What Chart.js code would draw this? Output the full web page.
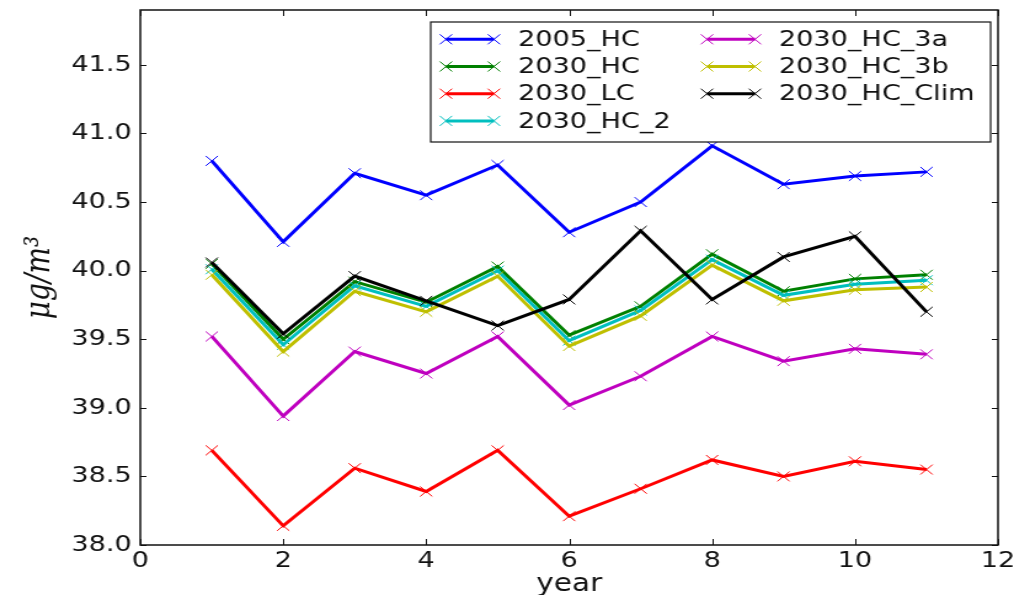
<!DOCTYPE html>
<html>
<head>
<meta charset="utf-8">
<script src="https://cdn.jsdelivr.net/npm/chart.js@4.4.1/dist/chart.umd.min.js"></script>
<style>
  html, body { margin: 0; padding: 0; background: #fff; overflow: hidden; }
  #chart { display: block; width: 1014px !important; height: 595px !important; }
</style>
</head>
<body>
<!-- the original figure is stretched sideways, so the canvas is drawn narrower and widened by css -->
<canvas id="chart" width="824" height="595" style="width:1014px;height:595px"></canvas>
<script>
const years = [1, 2, 3, 4, 5, 6, 7, 8, 9, 10, 11];

const hc2005   = [40.80, 40.21, 40.71, 40.55, 40.77, 40.28, 40.50, 40.91, 40.63, 40.69, 40.72];
const hc2030   = [40.05, 39.50, 39.92, 39.77, 40.03, 39.53, 39.74, 40.12, 39.85, 39.94, 39.97];
const lc2030   = [38.69, 38.14, 38.56, 38.39, 38.69, 38.21, 38.41, 38.62, 38.50, 38.61, 38.55];
const hc2030_2 = [40.01, 39.46, 39.89, 39.74, 40.00, 39.49, 39.71, 40.08, 39.82, 39.90, 39.93];
const hc2030_3a = [39.52, 38.94, 39.41, 39.25, 39.52, 39.02, 39.23, 39.52, 39.34, 39.43, 39.39];
const hc2030_3b = [39.97, 39.41, 39.85, 39.70, 39.96, 39.45, 39.67, 40.04, 39.78, 39.86, 39.88];
const hcClim   = [40.06, 39.54, 39.96, 39.78, 39.60, 39.79, 40.29, 39.79, 40.10, 40.25, 39.70];

const seriesNames = ['2005_HC', '2030_HC', '2030_LC', '2030_HC_2', '2030_HC_3a', '2030_HC_3b', '2030_HC_Clim'];
const seriesValues = [hc2005, hc2030, lc2030, hc2030_2, hc2030_3a, hc2030_3b, hcClim];
const colors = ['#0000ff', '#008000', '#ff0000', '#00bfbf', '#bf00bf', '#bfbf00', '#000000'];

const xTicks = { min: 0, max: 12, step: 2 };
const yTicks = { min: 38, max: 41.9, step: 0.5 };

const datasets = seriesNames.map((name, i) => ({
  label: name,
  data: years.map((yr, j) => ({ x: yr, y: seriesValues[i][j] })),
  borderColor: colors[i],
  backgroundColor: colors[i],
  borderWidth: 3,
  pointStyle: 'crossRot',
  pointRadius: 7,
  pointBorderWidth: 1,
  pointBorderColor: colors[i],
  order: seriesNames.length - i   // later series on top, like matplotlib
}));

function crossMark(ctx, x, y, r) {
  ctx.beginPath();
  ctx.moveTo(x - r, y - r); ctx.lineTo(x + r, y + r);
  ctx.moveTo(x - r, y + r); ctx.lineTo(x + r, y - r);
  ctx.stroke();
}

// box round the plot plus the inward ticks on all four sides
const framePlugin = {
  id: 'frame',
  afterDatasetsDraw(chart) {
    const { ctx, chartArea: a, scales } = chart;
    ctx.save();
    ctx.strokeStyle = '#111';
    ctx.lineWidth = 1;
    scales.x.ticks.forEach(t => {
      const px = Math.round(scales.x.getPixelForValue(t.value)) + 0.5;
      ctx.beginPath();
      ctx.moveTo(px, a.bottom); ctx.lineTo(px, a.bottom - 6);
      ctx.moveTo(px, a.top); ctx.lineTo(px, a.top + 6);
      ctx.stroke();
    });
    scales.y.ticks.forEach(t => {
      const py = Math.round(scales.y.getPixelForValue(t.value)) + 0.5;
      ctx.beginPath();
      ctx.moveTo(a.left, py); ctx.lineTo(a.left + 5, py);
      ctx.moveTo(a.right, py); ctx.lineTo(a.right - 5, py);
      ctx.stroke();
    });
    ctx.lineWidth = 1.5;
    ctx.strokeRect(a.left, a.top, a.right - a.left, a.bottom - a.top);
    ctx.restore();
  }
};

// matplotlib style legend, two columns, inside the top right corner
const legendPlugin = {
  id: 'boxLegend',
  afterDraw(chart) {
    const { ctx, chartArea: a } = chart;
    const w = 455, h = 120;
    const left = a.right - 6 - w, top = a.top + 12;
    ctx.save();
    ctx.fillStyle = '#fff';
    ctx.fillRect(left, top, w, h);
    ctx.strokeStyle = '#111';
    ctx.lineWidth = 1.2;
    ctx.strokeRect(left, top, w, h);
    ctx.font = '22px "DejaVu Sans"';
    ctx.textBaseline = 'middle';
    ctx.textAlign = 'left';
    chart.data.datasets.forEach((ds, i) => {
      const col = i < 4 ? 0 : 1;
      const row = i < 4 ? i : i - 4;
      const x0 = left + (col ? 224.5 : 12.4);
      const x1 = x0 + 39;
      const y = top + 17.3 + row * 27.2;
      ctx.strokeStyle = ds.borderColor;
      ctx.lineWidth = 3;
      ctx.beginPath(); ctx.moveTo(x0, y); ctx.lineTo(x1, y); ctx.stroke();
      ctx.lineWidth = 1;
      crossMark(ctx, x0, y, 5);
      crossMark(ctx, x1, y, 5);
      ctx.fillStyle = '#111';
      ctx.fillText(ds.label, x0 + 58.6, y + 1);
    });
    ctx.restore();
  }
};

new Chart(document.getElementById('chart'), {
  type: 'line',
  data: { datasets: datasets },
  options: {
    responsive: false,
    animation: false,
    devicePixelRatio: 1,
    layout: { padding: { top: 10, right: 13, left: 0, bottom: 0 } },
    plugins: { legend: { display: false }, tooltip: { enabled: false } },
    scales: {
      x: {
        type: 'linear',
        min: xTicks.min,
        max: xTicks.max,
        afterFit: s => { s.height = 50; s.paddingLeft = 0; s.paddingRight = 0; },
        grid: { display: false, drawTicks: false },
        border: { display: false },
        ticks: {
          stepSize: xTicks.step,
          padding: 3,
          maxRotation: 0,
          autoSkip: false,
          color: '#111',
          font: { family: 'DejaVu Sans', size: 22 }
        },
        title: {
          display: true,
          text: 'year',
          color: '#111',
          font: { family: 'DejaVu Sans', size: 24 },
          padding: { top: 0, bottom: -4 }
        }
      },
      y: {
        type: 'linear',
        min: yTicks.min,
        max: yTicks.max,
        afterFit: s => { s.width = 114; s.paddingTop = 0; s.paddingBottom = 0; },
        grid: { display: false, drawTicks: false },
        border: { display: false },
        ticks: {
          stepSize: yTicks.step,
          includeBounds: false,
          padding: 7,
          color: '#111',
          font: { family: 'DejaVu Sans', size: 22 },
          callback: v => v.toFixed(1)
        },
        title: {
          display: true,
          text: 'μg/m³',
          color: '#111',
          font: { family: 'DejaVu Serif', size: 28, style: 'italic' },
          padding: { top: 16, bottom: 0 }
        }
      }
    }
  },
  plugins: [framePlugin, legendPlugin]
});
</script>
</body>
</html>
